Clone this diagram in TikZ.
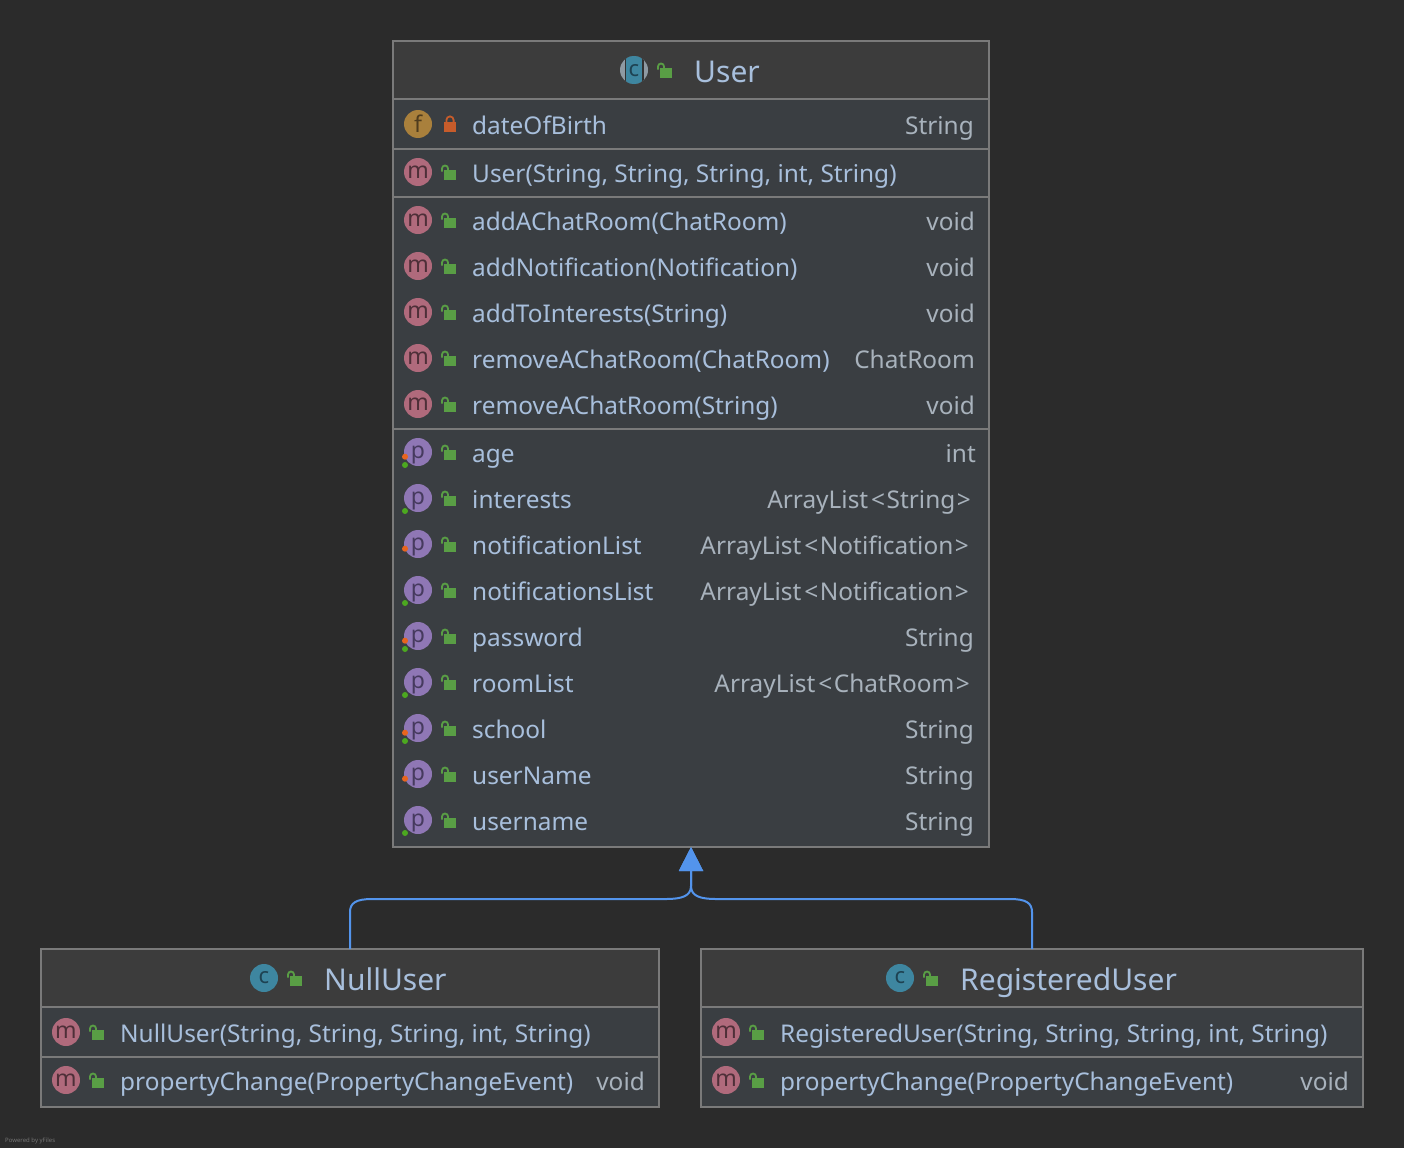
\documentclass[tikz,border=0pt]{standalone}
\usepackage{fontspec}
\setmainfont{Noto Sans}
\usetikzlibrary{arrows.meta}
\definecolor{bgc}{HTML}{2B2B2B}
\definecolor{headc}{HTML}{3C3C3C}
\definecolor{rowc}{HTML}{3A3E42}
\definecolor{linec}{HTML}{7A7A7A}
\definecolor{txtc}{HTML}{A8BFDC}
\definecolor{typec}{HTML}{A8B2BC}
\definecolor{arrowc}{HTML}{5394EC}
\definecolor{micon}{HTML}{B06A7C}
\definecolor{mtxt}{HTML}{4E2F38}
\definecolor{ficon}{HTML}{A9803C}
\definecolor{ftxt}{HTML}{4F3C1E}
\definecolor{picon}{HTML}{8F77B5}
\definecolor{ptxt}{HTML}{463A5E}
\definecolor{cicon}{HTML}{3E86A0}
\definecolor{ctxt}{HTML}{1E4252}
\definecolor{gicon}{HTML}{8E9AA3}
\definecolor{greenc}{HTML}{599E45}
\definecolor{redc}{HTML}{C75C2B}
\definecolor{dotor}{HTML}{E8651E}
\definecolor{dotgr}{HTML}{4CA820}
\tikzset{
  classbox/.style={draw=linec,line width=2pt,fill=rowc,inner sep=0pt,outer sep=0pt},
  frameonly/.style={draw=linec,line width=2pt,inner sep=0pt,outer sep=0pt},
  headfill/.style={fill=headc},
  sepline/.style={draw=linec,line width=2pt},
  rowtext/.style={text=txtc,font=\fontsize{24.4}{28}\selectfont,anchor=base west,inner sep=0pt},
  typetext/.style={text=typec,font=\fontsize{24.4}{28}\selectfont,anchor=base east,inner sep=0pt},
  titletext/.style={text=txtc,font=\fontsize{30}{34}\selectfont,anchor=base west,inner sep=0pt},
  iconbase/.style={circle,minimum size=28pt,inner sep=0pt,font=\fontsize{23}{23}\selectfont},
  iconm/.style={iconbase,fill=micon,text=mtxt},
  iconf/.style={iconbase,fill=ficon,text=ftxt},
  iconp/.style={iconbase,fill=picon,text=ptxt},
  iconc/.style={iconbase,fill=cicon,text=ctxt,font=\fontsize{22}{22}\selectfont\bfseries},
  dotone/.style={circle,minimum size=6pt,inner sep=0pt},
  conn/.style={draw=arrowc,line width=2pt,-{Triangle[length=24pt,width=24pt,color=arrowc]}},
}
\newcommand{\IL}[2][6]{\smash{\raisebox{-#1pt}{#2}}}
\newcommand{\LT}{\kern3pt<\kern1.5pt}
\newcommand{\GT}{\kern1.5pt>}
\newcommand{\OpenLock}[2]{\begin{scope}[shift={(#1,#2)}]
  \fill[greenc] (-5,-2) rectangle (7,8);
  \draw[greenc,line width=1.8pt] (-7,-0.5) -- (-7,-3.5) arc[start angle=180,end angle=360,x radius=3,y radius=3] -- (-1,-2);
\end{scope}}
\newcommand{\ClosedLock}[2]{\begin{scope}[shift={(#1,#2)}]
  \fill[redc] (-6,-2) rectangle (6,8);
  \draw[redc,line width=1.8pt] (-3.6,-1) -- (-3.6,-4) arc[start angle=180,end angle=360,x radius=3.6,y radius=3.6] -- (3.6,-1);
\end{scope}}
% name, icon x, y, style, letter, label
\newcommand{\RowL}[6]{%
  \node[icon#4] (#1i) at (#2,#3) {\IL{#5}};
  \OpenLock{#2+31}{#3}
  \node[rowtext] (#1t) at (#2+54,#3+10) {#6};}
\newcommand{\Typ}[4]{\node[typetext] (#1r) at (#2,#3+10) {#4};}
\newcommand{\DotO}[3]{\node[dotone,fill=dotor] (#1o) at (#2-13,#3+4.7) {};}
\newcommand{\DotG}[3]{\node[dotone,fill=dotgr] (#1g) at (#2-13,#3+13) {};}
\begin{document}
\begin{tikzpicture}[x=1pt,y=-1pt]
\useasboundingbox (0,0) rectangle (1404,1148);
\fill[bgc] (0,0) rectangle (1404,1148);

% boxes
\node[classbox,minimum width=596pt,minimum height=806pt] (userbox) at (691,444) {};
\node[classbox,minimum width=618pt,minimum height=158pt] (nullbox) at (350,1028) {};
\node[classbox,minimum width=662pt,minimum height=158pt] (regbox) at (1032,1028) {};
\fill[headfill] (393,41) rectangle (989,99);
\fill[headfill] (41,949) rectangle (659,1007);
\fill[headfill] (701,949) rectangle (1363,1007);
\node[frameonly,minimum width=596pt,minimum height=806pt] (userframe) at (691,444) {};
\node[frameonly,minimum width=618pt,minimum height=158pt] (nullframe) at (350,1028) {};
\node[frameonly,minimum width=662pt,minimum height=158pt] (regframe) at (1032,1028) {};
\foreach \yy in {99,149,197,429} \draw[sepline] (393,\yy) -- (989,\yy);
\foreach \yy in {1007,1057} {\draw[sepline] (41,\yy) -- (659,\yy); \draw[sepline] (701,\yy) -- (1363,\yy);}

% connectors
\draw[conn] (nullbox.north) -- (350,912) .. controls (350,903) and (356,899) .. (372,899) -- (666,899) .. controls (682,899) and (691,896) .. (691,886) -- (userbox.south);
\draw[conn] (regbox.north) -- (1032,912) .. controls (1032,903) and (1026,899) .. (1010,899) -- (716,899) .. controls (700,899) and (691,896) .. (691,886) -- (userbox.south);

% User header
\fill[gicon] (634,70) circle (14);
\begin{scope}
  \clip (634,70) circle (14);
  \fill[bgc!60!headc] (624.5,56) rectangle (643.5,84);
  \fill[cicon] (626,56) rectangle (642,84);
\end{scope}
\node[inner sep=0pt,text=ctxt,font=\fontsize{22}{22}\selectfont\bfseries] (usercl) at (634,70) {\IL{c}};
\OpenLock{665}{70}
\node[titletext] (usertitle) at (694,82) {User};

% User fields
\node[iconf] (dobi) at (418,124) {\IL[8]{f}};
\ClosedLock{450}{124}
\node[rowtext] (dobt) at (472,134) {dateOfBirth};
\Typ{dob}{974}{124}{String}
\RowL{ctor}{418}{172}{m}{m}{User(String, String, String, int, String)}
\RowL{a}{418}{220}{m}{m}{addAChatRoom(ChatRoom)}\Typ{a}{975}{220}{void}
\RowL{b}{418}{266}{m}{m}{addNotification(Notification)}\Typ{b}{975}{266}{void}
\RowL{c}{418}{312}{m}{m}{addToInterests(String)}\Typ{c}{975}{312}{void}
\RowL{d}{418}{358}{m}{m}{removeAChatRoom(ChatRoom)}\Typ{d}{975}{358}{ChatRoom}
\RowL{e}{418}{404}{m}{m}{removeAChatRoom(String)}\Typ{e}{975}{404}{void}
\RowL{p}{418}{452}{p}{p}{age}\Typ{p}{976}{452}{int}\DotO{p}{418}{452}\DotG{p}{418}{452}
\RowL{q}{418}{498}{p}{p}{interests}\Typ{q}{971}{498}{ArrayList\LT String\GT}\DotG{q}{418}{498}
\RowL{r}{418}{544}{p}{p}{notificationList}\Typ{r}{969}{544}{ArrayList\LT Notification\GT}\DotO{r}{418}{544}
\RowL{s}{418}{590}{p}{p}{notificationsList}\Typ{s}{969}{590}{ArrayList\LT Notification\GT}\DotG{s}{418}{590}
\RowL{t}{418}{636}{p}{p}{password}\Typ{t}{974}{636}{String}\DotO{t}{418}{636}\DotG{t}{418}{636}
\RowL{u}{418}{682}{p}{p}{roomList}\Typ{u}{970}{682}{ArrayList\LT ChatRoom\GT}\DotG{u}{418}{682}
\RowL{v}{418}{728}{p}{p}{school}\Typ{v}{974}{728}{String}\DotO{v}{418}{728}\DotG{v}{418}{728}
\RowL{w}{418}{774}{p}{p}{userName}\Typ{w}{974}{774}{String}\DotO{w}{418}{774}
\RowL{x}{418}{820}{p}{p}{username}\Typ{x}{974}{820}{String}\DotG{x}{418}{820}

% NullUser
\node[iconc] (nullc) at (264,978) {\IL[5.5]{c}};
\OpenLock{295}{978}
\node[titletext] (nulltitle) at (324,990) {NullUser};
\RowL{na}{66}{1032}{m}{m}{NullUser(String, String, String, int, String)}
\RowL{nb}{66}{1080}{m}{m}{propertyChange(PropertyChangeEvent)}\Typ{nb}{645}{1080}{void}

% RegisteredUser
\node[iconc] (regc) at (900,978) {\IL[5.5]{c}};
\OpenLock{931}{978}
\node[titletext] (regtitle) at (960,990) {RegisteredUser};
\RowL{ra}{726}{1032}{m}{m}{RegisteredUser(String, String, String, int, String)}
\RowL{rb}{726}{1080}{m}{m}{propertyChange(PropertyChangeEvent)}\Typ{rb}{1349}{1080}{void}

\node[anchor=base west,inner sep=0pt,text=white!35!bgc,font=\fontsize{6}{7}\selectfont] (yf) at (5,1142) {Powered by yFiles};
\end{tikzpicture}
\end{document}
